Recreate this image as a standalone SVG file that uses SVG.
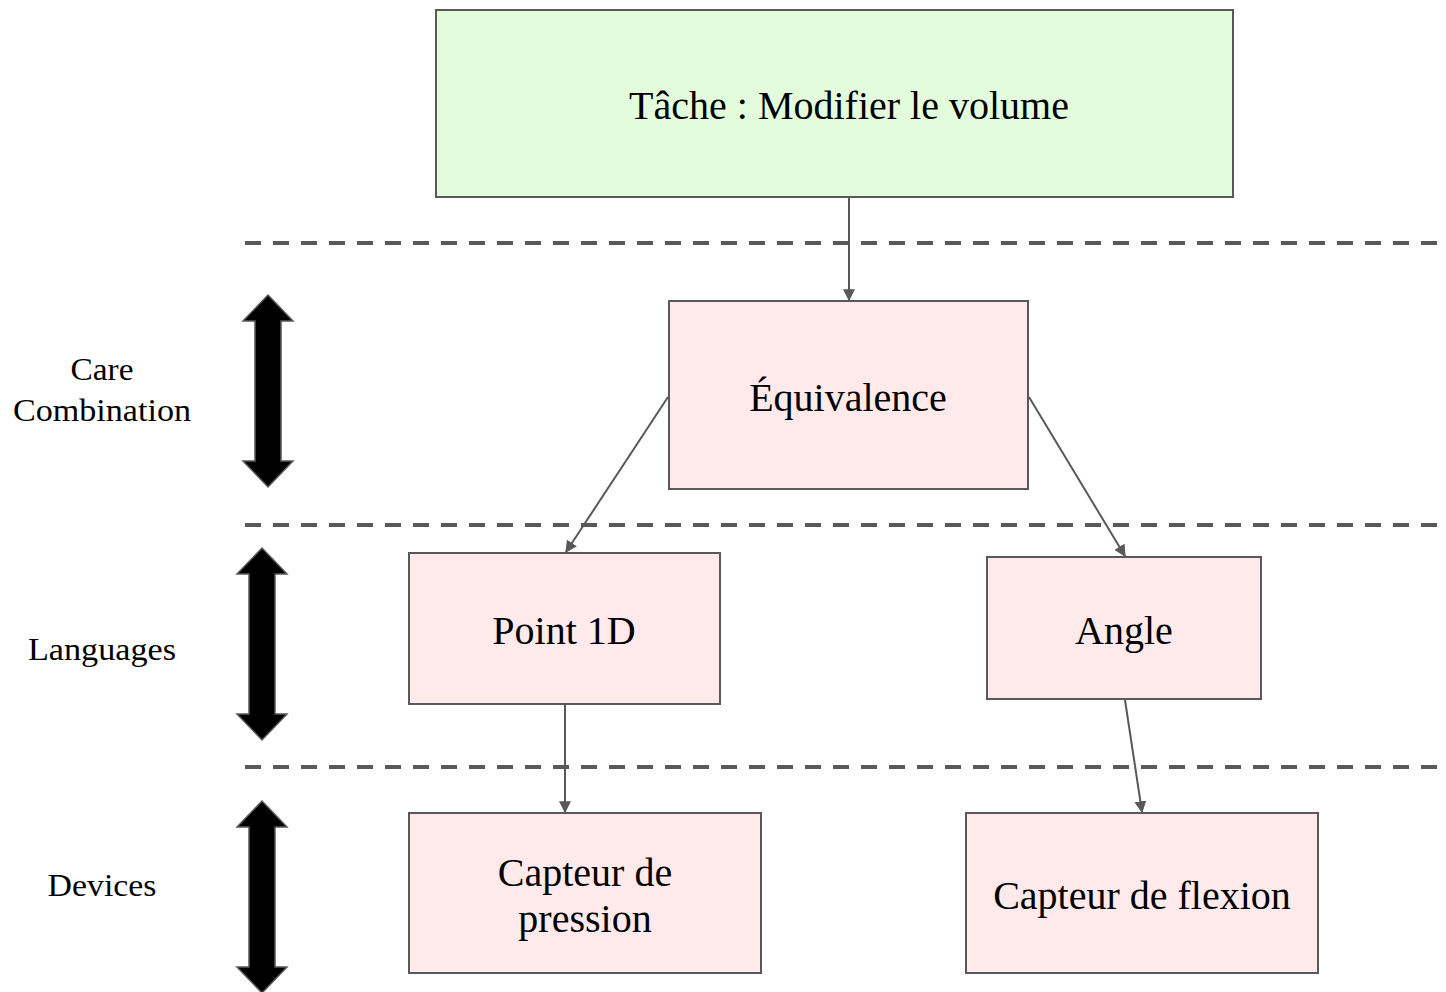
<svg xmlns="http://www.w3.org/2000/svg" width="1446" height="992" viewBox="0 0 1446 992">
<defs>
<style>
.box{stroke:#595959;stroke-width:2}
.green{fill:#e3fddc}
.pink{fill:#feeaea}
.t{font-family:"Liberation Serif",serif;font-size:40px;fill:#000;text-anchor:middle}
.l{font-family:"Liberation Serif",serif;font-size:31px;fill:#000;text-anchor:middle}
.dash{stroke:#595959;stroke-width:4;stroke-dasharray:16 12;fill:none}
.conn{stroke:#595959;stroke-width:2;fill:none;marker-end:url(#ah)}
.dbl{fill:#000;stroke:#595959;stroke-width:1.5}
</style>
<marker id="ah" viewBox="0 0 10 10" refX="9" refY="5" markerWidth="6" markerHeight="6" orient="auto" markerUnits="strokeWidth">
<path d="M0,0 L10,5 L0,10 z" fill="#595959"/>
</marker>
</defs>
<rect width="1446" height="992" fill="#fff"/>
<g id="separators">
<line class="dash" x1="245" y1="243" x2="1446" y2="243"/>
<line class="dash" x1="245" y1="525" x2="1446" y2="525"/>
<line class="dash" x1="245" y1="767" x2="1446" y2="767"/>
</g>
<g id="level-arrows">
<path class="dbl" d="M268,295 L293,321 L281,321 L281,461 L293,461 L268,487 L243,461 L255,461 L255,321 L243,321 Z"/>
<path class="dbl" d="M262,548 L287,574 L275,574 L275,714 L287,714 L262,740 L237,714 L249,714 L249,574 L237,574 Z"/>
<path class="dbl" d="M262,801 L287,827 L275,827 L275,967 L287,967 L262,993 L237,967 L249,967 L249,827 L237,827 Z"/>
</g>
<g id="labels">
<text class="l" x="102" y="380" textLength="63" lengthAdjust="spacingAndGlyphs">Care</text>
<text class="l" x="102" y="421" textLength="178" lengthAdjust="spacingAndGlyphs">Combination</text>
<text class="l" x="102" y="660" textLength="148" lengthAdjust="spacingAndGlyphs">Languages</text>
<text class="l" x="102" y="896" textLength="109" lengthAdjust="spacingAndGlyphs">Devices</text>
</g>
<g id="connectors">
<line class="conn" x1="849" y1="198" x2="849" y2="300"/>
<line class="conn" x1="668" y1="397" x2="566" y2="552"/>
<line class="conn" x1="1029" y1="397" x2="1125" y2="556"/>
<line class="conn" x1="565" y1="705" x2="565" y2="812"/>
<line class="conn" x1="1125" y1="700" x2="1142" y2="812"/>
</g>
<g id="task">
<rect class="box green" x="436" y="10" width="797" height="187"/>
<text class="t" x="849" y="119">Tâche : Modifier le volume</text>
</g>
<g id="equivalence">
<rect class="box pink" x="669" y="301" width="359" height="188"/>
<text class="t" x="848" y="411">Équivalence</text>
</g>
<g id="point1d">
<rect class="box pink" x="409" y="553" width="311" height="151"/>
<text class="t" x="564" y="644">Point 1D</text>
</g>
<g id="angle">
<rect class="box pink" x="987" y="557" width="274" height="142"/>
<text class="t" x="1124" y="644">Angle</text>
</g>
<g id="capteur-pression">
<rect class="box pink" x="409" y="813" width="352" height="160"/>
<text class="t" x="585" y="886">Capteur de</text>
<text class="t" x="585" y="932">pression</text>
</g>
<g id="capteur-flexion">
<rect class="box pink" x="966" y="813" width="352" height="160"/>
<text class="t" x="1142" y="909">Capteur de flexion</text>
</g>
</svg>
